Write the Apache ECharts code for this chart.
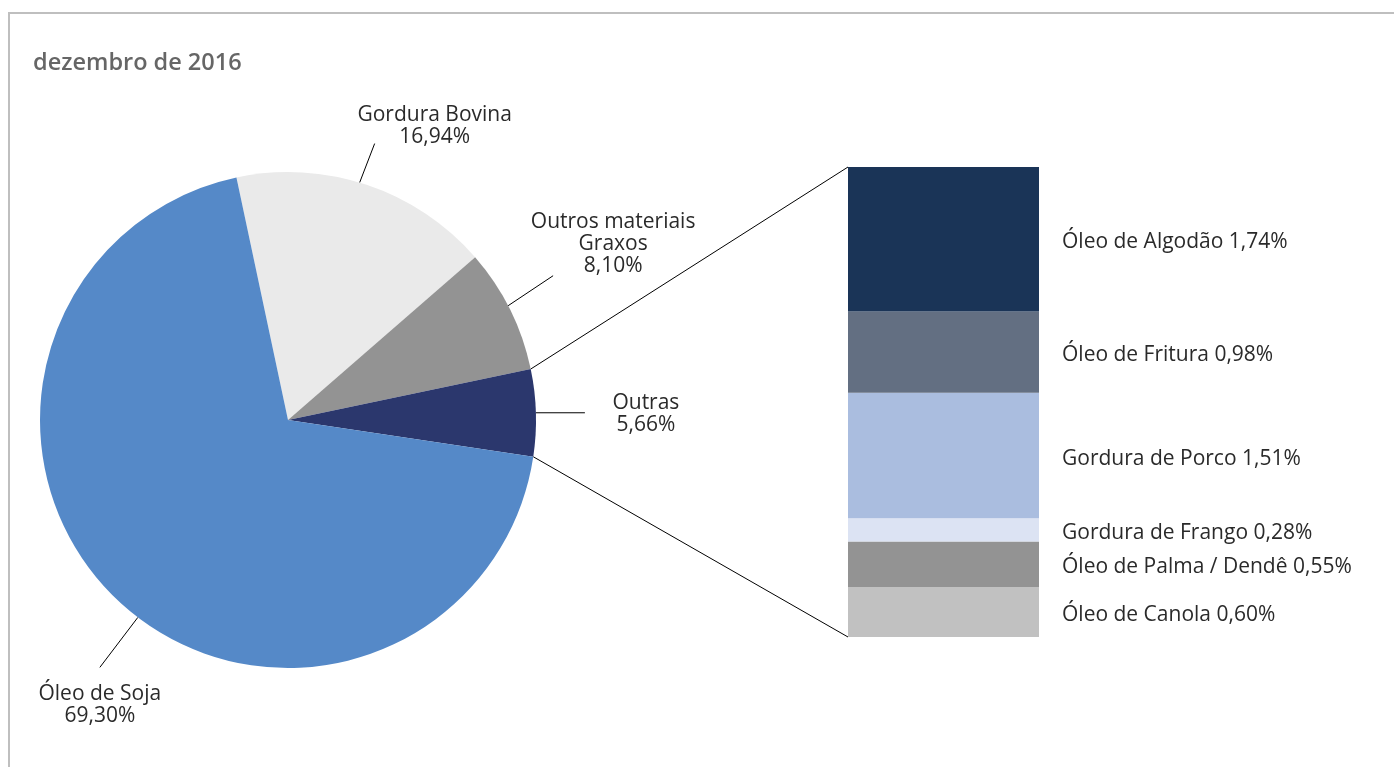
<!DOCTYPE html>
<html>
<head>
<meta charset="utf-8">
<script src="https://cdn.jsdelivr.net/npm/echarts@6/dist/echarts.min.js"></script>
<style>
  html, body { margin: 0; padding: 0; background: #ffffff; }
  #chart { width: 1394px; height: 767px; }
</style>
</head>
<body>
<div id="chart"></div>
<script>
// Feedstock shares, December 2016
const titleText = 'dezembro de 2016';

const pieNames  = ['Gordura Bovina', 'Outros materiais\nGraxos', 'Outras', 'Óleo de Soja'];
const pieValues = [16.94, 8.10, 5.66, 69.30];

// Breakdown of "Outras", listed from top of the column to the bottom
const breakdownNames  = ['Óleo de Algodão', 'Óleo de Fritura', 'Gordura de Porco',
                         'Gordura de Frango', 'Óleo de Palma / Dendê', 'Óleo de Canola'];
const breakdownValues = [1.74, 0.98, 1.51, 0.28, 0.55, 0.60];

// Styling
const pieColors       = ['#EAEAEA', '#939393', '#2B376D', '#5589C8'];
const breakdownColors = ['#1A3457', '#636F82', '#AABDDF', '#DCE3F3', '#939393', '#C1C1C1'];
const FONT = '"Open Sans", "Noto Sans", sans-serif';
const TEXT_COLOR = '#2a2a2a';
const LABEL_SIZE = 21;

// Pie geometry
const CX = 288, CY = 420, R = 248, START_ANGLE = 102;
// Column geometry
const COL = { left: 848, top: 167, width: 191, height: 470 };

// Leader-line placement per slice: [anchor nudge (deg), line dx, line dy, label dx, label dy]
const leader = [
  [1.7, 15, -39, 60, -18],
  [1.0, 45, -30, 60, -32],
  [0.0, 49, 0, 61, 1],
  [6.0, -38, 50, 0, 38]
];

const fmt = v => v.toFixed(2).replace('.', ',');
const outrasIndex = pieNames.indexOf('Outras');
const outrasTotal = breakdownValues.reduce((a, b) => a + b, 0);

const chart = echarts.init(document.getElementById('chart'), null, { renderer: 'canvas' });

// Stacked column: first series sits at the bottom, so walk the list in reverse
const barSeries = breakdownNames.map((name, i) => ({ name, i })).reverse().map(({ name, i }) => ({
  type: 'bar',
  name,
  stack: 'outras',
  barWidth: '100%',
  xAxisIndex: 0,
  yAxisIndex: 0,
  data: [breakdownValues[i]],
  itemStyle: { color: breakdownColors[i] },
  emphasis: { disabled: true },
  label: {
    show: true,
    position: 'right',
    distance: 23,
    offset: [0, 3],
    color: TEXT_COLOR,
    fontFamily: FONT,
    fontSize: LABEL_SIZE,
    formatter: p => p.seriesName + ' ' + fmt(p.value) + '%'
  }
}));

chart.setOption({
  animation: false,
  backgroundColor: '#ffffff',
  title: {
    text: titleText,
    left: 33,
    top: 51,
    padding: 0,
    textStyle: { fontFamily: FONT, fontSize: 23.5, fontWeight: 600, color: '#666666' }
  },
  grid: { left: COL.left, top: COL.top, width: COL.width, height: COL.height, containLabel: false },
  xAxis: { type: 'category', data: ['Outras'], show: false },
  yAxis: { type: 'value', min: 0, max: outrasTotal, show: false },
  graphic: [{
    id: 'frame',
    type: 'rect',
    shape: { x: 9, y: 13, width: 1500, height: 900 },
    style: { fill: 'none', stroke: '#BFBFBF', lineWidth: 2 },
    silent: true
  }],
  series: [{
    type: 'pie',
    center: [CX, CY],
    radius: R,
    startAngle: START_ANGLE,
    clockwise: true,
    avoidLabelOverlap: false,
    emphasis: { disabled: true },
    data: pieNames.map((name, i) => ({ name, value: pieValues[i], itemStyle: { color: pieColors[i] } })),
    label: {
      show: true,
      position: 'outside',
      color: TEXT_COLOR,
      fontFamily: FONT,
      fontSize: LABEL_SIZE,
      lineHeight: 22,
      align: 'center',
      formatter: p => p.name + '\n' + fmt(p.value) + '%'
    },
    labelLine: { show: true, length: 40, length2: 0, lineStyle: { color: '#000', width: 1 } },
    labelLayout: p => {
      const cfg = leader[p.dataIndex];
      const p0 = p.labelLinePoints[0];
      const a = Math.atan2(CY - p0[1], p0[0] - CX) + cfg[0] * Math.PI / 180;
      const sx = CX + R * Math.cos(a), sy = CY - R * Math.sin(a);
      const ex = sx + cfg[1], ey = sy + cfg[2];
      return {
        x: ex + cfg[3],
        y: ey + cfg[4],
        align: 'center',
        verticalAlign: 'middle',
        labelLinePoints: [[sx, sy], [ex, ey], [ex, ey]]
      };
    }
  }].concat(barSeries)
});

// Connector lines from the edges of the "Outras" slice to the column corners
const before = pieValues.slice(0, outrasIndex).reduce((a, b) => a + b, 0);
const a1 = (START_ANGLE - before * 3.6) * Math.PI / 180;
const a2 = (START_ANGLE - (before + pieValues[outrasIndex]) * 3.6) * Math.PI / 180;
const topPx = chart.convertToPixel({ xAxisIndex: 0, yAxisIndex: 0 }, [0, outrasTotal]);
const botPx = chart.convertToPixel({ xAxisIndex: 0, yAxisIndex: 0 }, [0, 0]);
const colLeft = topPx[0] - COL.width / 2;

chart.setOption({
  graphic: [
    {
      id: 'connTop', type: 'line', silent: true,
      shape: { x1: CX + R * Math.cos(a1), y1: CY - R * Math.sin(a1), x2: colLeft, y2: topPx[1] },
      style: { stroke: '#000', lineWidth: 1 }
    },
    {
      id: 'connBottom', type: 'line', silent: true,
      shape: { x1: CX + R * Math.cos(a2), y1: CY - R * Math.sin(a2), x2: colLeft, y2: botPx[1] },
      style: { stroke: '#000', lineWidth: 1 }
    }
  ]
});
</script>
</body>
</html>
